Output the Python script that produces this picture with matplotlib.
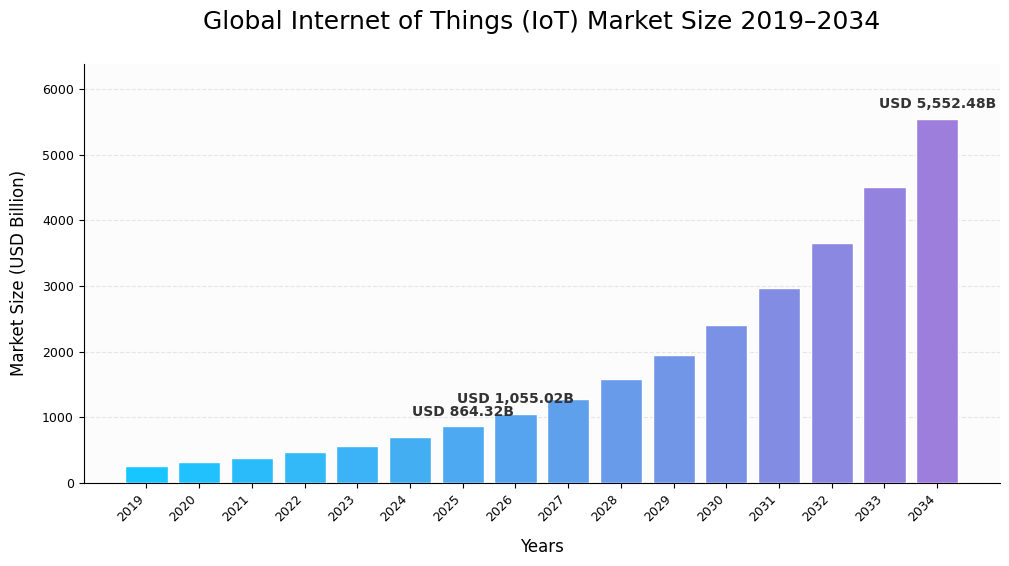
import numpy as np
import matplotlib.pyplot as plt
from matplotlib.colors import LinearSegmentedColormap

# Dados do mercado de IoT (USD bilhões)
anos = [2019, 2020, 2021, 2022, 2023, 2024, 2025, 2026,
        2027, 2028, 2029, 2030, 2031, 2032, 2033, 2034]
valores = [250, 315, 385, 462, 568, 705, 864.32, 1055.02,
           1280, 1590, 1955, 2410, 2975, 3660, 4510, 5552.48]
destaques = [2025, 2026, 2034]

fig, ax = plt.subplots(figsize=(10.09, 5.66), dpi=100)
fig.subplots_adjust(left=0.083, right=0.991, bottom=0.147, top=0.887)
ax.set_facecolor('#fcfcfc')

# Gradiente ciano -> roxo
cmap = LinearSegmentedColormap.from_list('iot', ['#18c6ff', '#9d7edc'])
cores = [cmap(i / (len(anos) - 1)) for i in range(len(anos))]

x = np.arange(len(anos))
ax.bar(x, valores, width=0.8, color=cores, edgecolor='white', linewidth=1, zorder=3)

ax.set_xticks(x)
ax.set_xticklabels([str(a) for a in anos], rotation=45, ha='right', fontsize=9)
ax.tick_params(axis='y', labelsize=9)
ax.set_ylim(0, max(valores) * 1.15)

ax.grid(axis='y', linestyle='--', alpha=0.3, zorder=0)
ax.spines['top'].set_visible(False)
ax.spines['right'].set_visible(False)

# Rótulos dos anos destacados
for ano in destaques:
    i = anos.index(ano)
    v = valores[i]
    ax.text(x[i], v + max(valores) * 0.02, f'USD {v:,.2f}B', ha='center', va='bottom',
            fontsize=10, fontweight='bold', color='#333333', zorder=4)

ax.set_title('Global Internet of Things (IoT) Market Size 2019\u20132034', fontsize=18, pad=25)
ax.set_xlabel('Years', fontsize=12, labelpad=10)
ax.set_ylabel('Market Size (USD Billion)', fontsize=12, labelpad=10)

fig.savefig('out.png', dpi=100)
